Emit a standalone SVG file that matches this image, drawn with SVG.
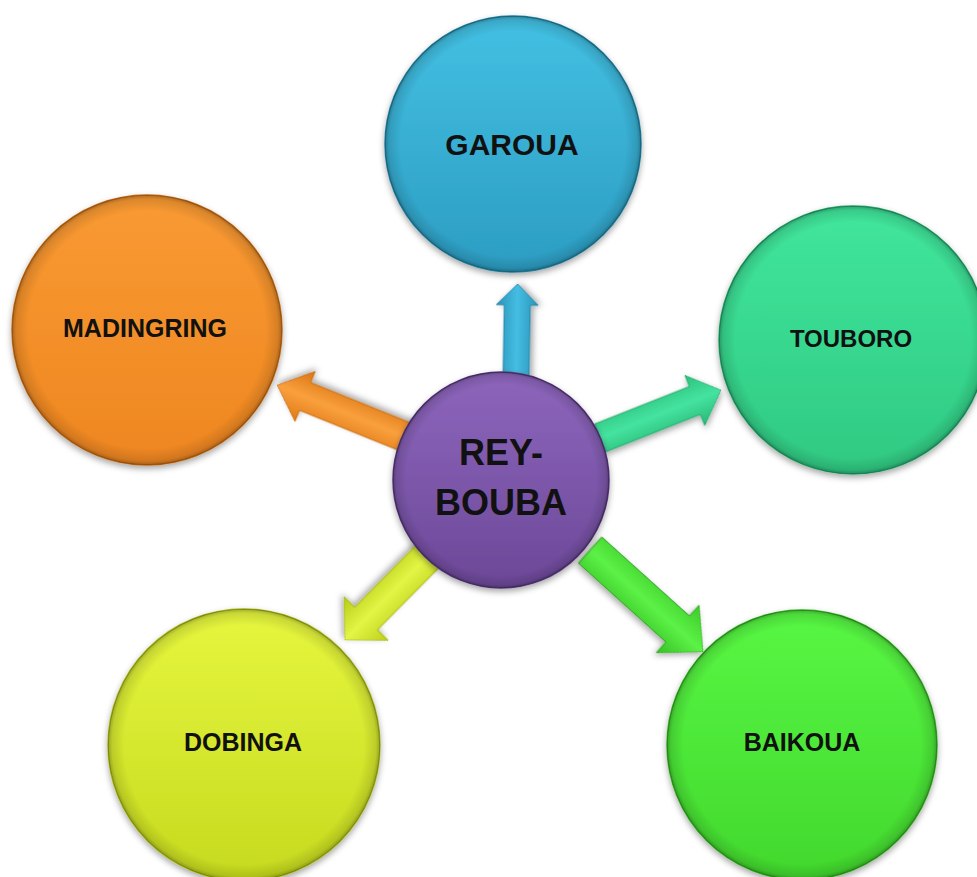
<svg xmlns="http://www.w3.org/2000/svg" width="977" height="877" viewBox="0 0 977 877">
<defs>
  <filter id="shadow" x="-20%" y="-20%" width="140%" height="140%">
    <feDropShadow dx="0" dy="3" stdDeviation="3" flood-color="#000" flood-opacity="0.35"/>
  </filter>
  <radialGradient id="rim" cx="0.5" cy="0.5" r="0.5">
    <stop offset="0.88" stop-color="#000" stop-opacity="0"/>
    <stop offset="0.97" stop-color="#000" stop-opacity="0.12"/>
    <stop offset="1" stop-color="#000" stop-opacity="0.3"/>
  </radialGradient>
  <linearGradient id="gBlue" x1="0" y1="0" x2="0" y2="1">
    <stop offset="0" stop-color="#43C0E3"/><stop offset="1" stop-color="#2C9DC2"/>
  </linearGradient>
  <linearGradient id="gOrange" x1="0" y1="0" x2="0" y2="1">
    <stop offset="0" stop-color="#F99A33"/><stop offset="1" stop-color="#EE8620"/>
  </linearGradient>
  <linearGradient id="gTeal" x1="0" y1="0" x2="0" y2="1">
    <stop offset="0" stop-color="#41E69C"/><stop offset="1" stop-color="#2FC982"/>
  </linearGradient>
  <linearGradient id="gPurple" x1="0" y1="0" x2="0" y2="1">
    <stop offset="0" stop-color="#8D66BC"/><stop offset="1" stop-color="#6C4898"/>
  </linearGradient>
  <linearGradient id="gYellow" x1="0" y1="0" x2="0" y2="1">
    <stop offset="0" stop-color="#E6F63E"/><stop offset="1" stop-color="#C6DA1E"/>
  </linearGradient>
  <linearGradient id="gGreen" x1="0" y1="0" x2="0" y2="1">
    <stop offset="0" stop-color="#58F744"/><stop offset="1" stop-color="#42D82D"/>
  </linearGradient>
  <linearGradient id="aBlue" x1="0" y1="0" x2="0" y2="1">
    <stop offset="0" stop-color="#2A93B8"/><stop offset="0.5" stop-color="#45BDE2"/><stop offset="1" stop-color="#2A93B8"/>
  </linearGradient>
  <linearGradient id="aOrange" x1="0" y1="0" x2="0" y2="1">
    <stop offset="0" stop-color="#E07A18"/><stop offset="0.5" stop-color="#F9A03C"/><stop offset="1" stop-color="#D97314"/>
  </linearGradient>
  <linearGradient id="aTeal" x1="0" y1="0" x2="0" y2="1">
    <stop offset="0" stop-color="#2BC27C"/><stop offset="0.5" stop-color="#45E3A0"/><stop offset="1" stop-color="#28B874"/>
  </linearGradient>
  <linearGradient id="aYellow" x1="0" y1="0" x2="0" y2="1">
    <stop offset="0" stop-color="#BCD01A"/><stop offset="0.5" stop-color="#E3F545"/><stop offset="1" stop-color="#B6CB16"/>
  </linearGradient>
  <linearGradient id="aGreen" x1="0" y1="0" x2="0" y2="1">
    <stop offset="0" stop-color="#3CCB28"/><stop offset="0.5" stop-color="#5CF247"/><stop offset="1" stop-color="#36C023"/>
  </linearGradient>
</defs>
<style>
  .label { font-family: "Liberation Sans", Arial, sans-serif; font-weight: bold; fill: #111; text-anchor: middle; }
  .node circle.base { filter: url(#shadow); }
  .arrow { filter: url(#shadow); stroke-width: 0.8; }
</style>
<rect width="977" height="877" fill="#fff"/>

<g id="node-garoua" class="node">
  <circle class="base" cx="513" cy="144" r="128" fill="url(#gBlue)" stroke="#22809F" stroke-width="1.5"/>
  <circle cx="513" cy="144" r="128" fill="url(#rim)"/>
  <text class="label" x="512" y="155" font-size="30">GAROUA</text>
</g>
<g id="node-madingring" class="node">
  <circle class="base" cx="147" cy="330" r="135" fill="url(#gOrange)" stroke="#C46A12" stroke-width="1.5"/>
  <circle cx="147" cy="330" r="135" fill="url(#rim)"/>
  <text class="label" x="145" y="337" font-size="25">MADINGRING</text>
</g>
<g id="node-touboro" class="node">
  <circle class="base" cx="853" cy="340" r="134" fill="url(#gTeal)" stroke="#23A468" stroke-width="1.5"/>
  <circle cx="853" cy="340" r="134" fill="url(#rim)"/>
  <text class="label" x="851" y="347" font-size="24">TOUBORO</text>
</g>
<g id="node-dobinga" class="node">
  <circle class="base" cx="244" cy="745" r="136" fill="url(#gYellow)" stroke="#A3B512" stroke-width="1.5"/>
  <circle cx="244" cy="745" r="136" fill="url(#rim)"/>
  <text class="label" x="243" y="751" font-size="25">DOBINGA</text>
</g>
<g id="node-baikoua" class="node">
  <circle class="base" cx="802" cy="745" r="135" fill="url(#gGreen)" stroke="#30AE1F" stroke-width="1.5"/>
  <circle cx="802" cy="745" r="135" fill="url(#rim)"/>
  <text class="label" x="802" y="751" font-size="25">BAIKOUA</text>
</g>

<g id="connectors">
  <polygon class="arrow" transform="translate(516,378) rotate(-89)" points="0,-13 73,-13 73,-21 94,0 73,21 73,13 0,13" fill="url(#aBlue)" stroke="#1F7E9E"/>
  <polygon class="arrow" transform="translate(600,438) rotate(-21.6)" points="0,-15 102,-15 102,-27 130,0 102,27 102,15 0,15" fill="url(#aTeal)" stroke="#1FA264"/>
  <polygon class="arrow" transform="translate(408,438) rotate(-158)" points="0,-15 111,-15 111,-27 141,0 111,27 111,15 0,15" fill="url(#aOrange)" stroke="#C0640E"/>
  <polygon class="arrow" transform="translate(428,556) rotate(134.7)" points="0,-16 88,-16 88,-31 118,0 88,31 88,16 0,16" fill="url(#aYellow)" stroke="#9FB00E"/>
  <polygon class="arrow" transform="translate(590,550) rotate(42)" points="0,-17.5 118,-17.5 118,-32 152,0 118,32 118,17.5 0,17.5" fill="url(#aGreen)" stroke="#2BA01A"/>
</g>

<g id="node-rey-bouba" class="node">
  <circle class="base" cx="501" cy="480" r="108" fill="url(#gPurple)" stroke="#553679" stroke-width="1.5"/>
  <circle cx="501" cy="480" r="108" fill="url(#rim)"/>
  <text class="label" x="501" y="465" font-size="36">REY-</text>
  <text class="label" x="501" y="515" font-size="36">BOUBA</text>
</g>
</svg>
